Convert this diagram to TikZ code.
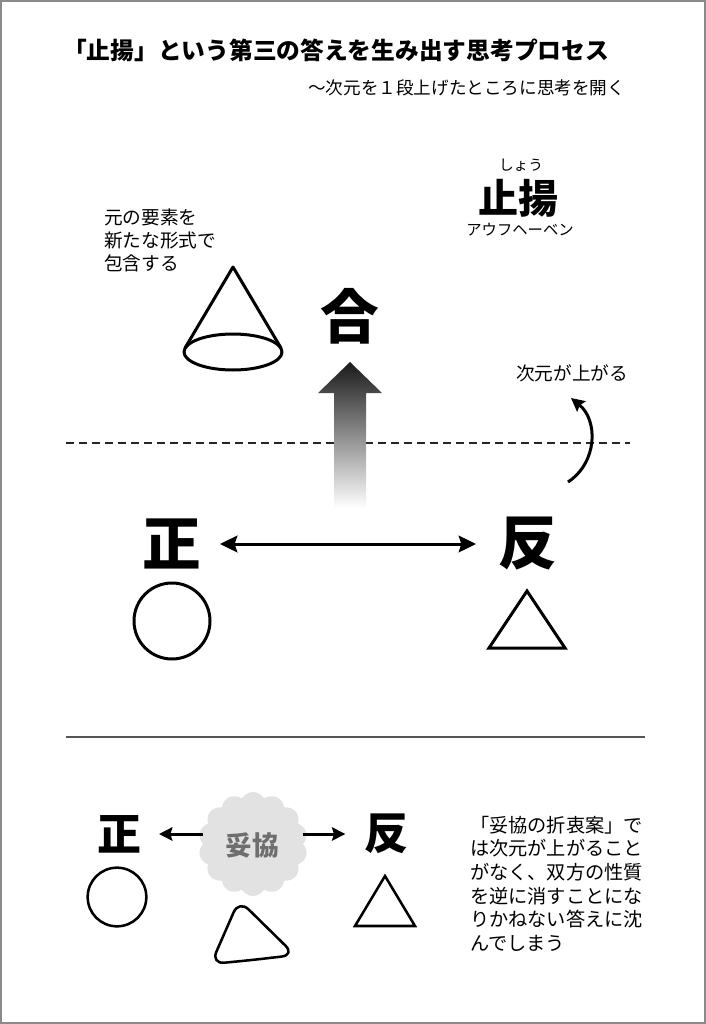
\documentclass[tikz,border=0pt]{standalone}
\usepackage{fontspec}
\setmainfont{Noto Sans CJK JP}
\usetikzlibrary{arrows.meta,shapes.symbols}
\definecolor{framegray}{HTML}{8A8A8A}
\definecolor{rulegray}{HTML}{555555}
\definecolor{cloudgray}{HTML}{E2E2E2}
\definecolor{cloudtext}{HTML}{6E6E6E}
\definecolor{arrowtop}{HTML}{1A1A1A}
\begin{document}
\begin{tikzpicture}[x=0.75pt,y=-0.75pt,
  every node/.style={inner sep=0pt, outer sep=0pt},
  titletext/.style={font=\fontsize{17.8pt}{21pt}\selectfont\bfseries, anchor=east},
  subtext/.style={font=\fontsize{13.2pt}{16pt}\selectfont, anchor=east},
  bigchar/.style={font=\fontsize{44pt}{50pt}\selectfont\bfseries},
  midchar/.style={font=\fontsize{33pt}{40pt}\selectfont\bfseries},
  notetext/.style={font=\fontsize{14pt}{17.25pt}\selectfont, align=left, anchor=north west},
  shapeline/.style={line width=2.25pt, line join=round},
  thinshape/.style={line width=1.9pt, line join=round},
  dblarrow/.style={line width=2.25pt, {Stealth[length=13pt,width=12.5pt,inset=2pt]}-{Stealth[length=13pt,width=12.5pt,inset=2pt]}},
  onearrow/.style={line width=2.25pt, -{Stealth[length=10pt,width=10pt,inset=1.5pt]}},
]
\useasboundingbox (0,0) rectangle (706,1024);
% frame
\draw[framegray, line width=1.5pt] (1,1) rectangle (704.5,1022.5);

% titles
\node[titletext] (title) at (609,50) {「止揚」という第三の答えを生み出す思考プロセス};
\node[subtext] (subtitle) at (625,88) {～次元を１段上げたところに思考を開く};

% aufheben label
\node[font=\fontsize{11pt}{13pt}\selectfont] (ruby) at (521,165) {しょう};
\node[font=\fontsize{30pt}{36pt}\selectfont\bfseries] (shiyo) at (518,198) {止揚};
\node[font=\fontsize{11.5pt}{14pt}\selectfont] (aufheben) at (520,230) {アウフヘーベン};

% left note
\node[notetext] (note1) at (104,209) {元の要素を\\新たな形式で\\包含する};

% cone
\draw[shapeline] (185,348) -- (233,267) -- (281,348);
\draw[shapeline] (233,352) ellipse [x radius=36.75pt, y radius=13.5pt];

% synthesis
\node[bigchar] (go) at (350,316) {合};

% dashed line
\draw[black!85, line width=1.1pt, dash pattern=on 6pt off 3.75pt] (66,443) -- (630,443);

% gradient arrow
\shade[top color=arrowtop, bottom color=white]
  (350,362) -- (382,393) -- (366,393) -- (366,508) -- (334,508) -- (334,393) -- (318,393) -- cycle;

% dimension label and curved arrow
\node[font=\fontsize{14pt}{17pt}\selectfont] (dimup) at (572,373) {次元が上がる};
\coordinate (cs) at (568,482);
\coordinate (ce) at (571,398);
\draw[onearrow] (cs) .. controls (598,462) and (598,420) .. (ce);

% thesis / antithesis
\node[bigchar] (sei) at (172,544) {正};
\node[bigchar] (han) at (528,544) {反};
\draw[dblarrow, shorten <=14pt, shorten >=17pt] (sei) -- (han);

\draw[shapeline] (172,621) circle [radius=28.5pt];
\draw[shapeline, line join=miter] (527,591) -- (565,648) -- (489,648) -- cycle;

% separator
\draw[rulegray, line width=1pt] (66,737) -- (645,737);

% compromise section
\node[cloud, cloud puffs=14, cloud puff arc=120, aspect=1.05, fill=cloudgray,
      minimum width=82pt, minimum height=78pt] (cloud) at (253,844) {};
\node[font=\fontsize{20pt}{24pt}\selectfont\bfseries, text=cloudtext] (dakyo) at (252,845) {妥協};
\node[midchar] (sei2) at (119,834) {正};
\node[midchar] (han2) at (386,834) {反};
\draw[onearrow, shorten >=13.5pt] (cloud.west |- sei2) -- (sei2);
\draw[onearrow, shorten >=14pt] (cloud.east |- han2) -- (han2);

\draw[thinshape] (117,897) circle [radius=22pt];
\draw[thinshape, line join=miter] (385,876) -- (415,926) -- (355,926) -- cycle;
\draw[thinshape, rounded corners=10pt] (252,960) -- (295,955) -- (239,900) -- (211,964) -- cycle;

% right note
\node[font=\fontsize{14.4pt}{17.7pt}\selectfont, align=left, anchor=north west] (note2) at (470,816)
  {「妥協の折衷案」で\\は次元が上がること\\がなく、双方の性質\\を逆に消すことにな\\りかねない答えに沈\\んでしまう};
\end{tikzpicture}
\end{document}
